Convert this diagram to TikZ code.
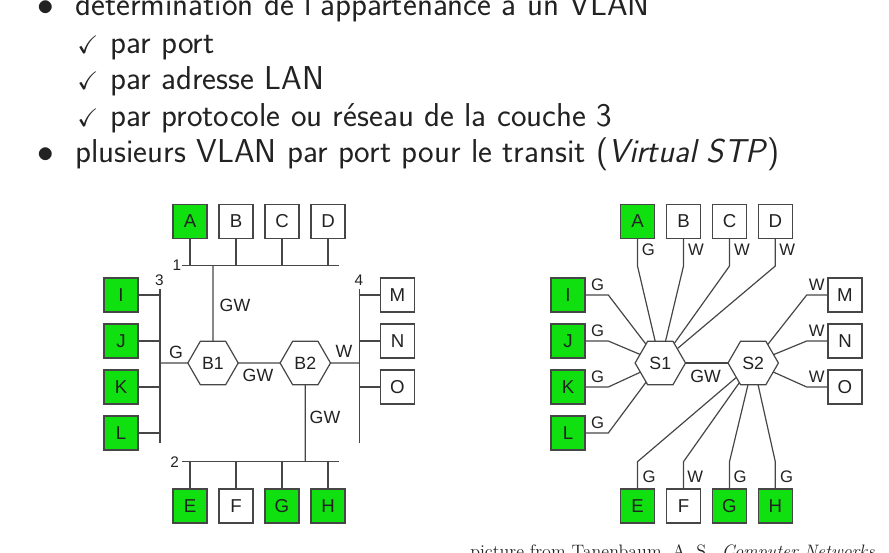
\documentclass[tikz,border=0pt]{standalone}
\usepackage{amssymb}
\usepackage{fontspec}
\newfontfamily\diagfont{Liberation Sans}
\usetikzlibrary{shapes.geometric}
\definecolor{vlangreen}{RGB}{16,224,16}
\definecolor{linegray}{RGB}{70,70,70}
\definecolor{inkgray}{RGB}{34,34,34}

\tikzset{
  item/.style={inner sep=0pt, text=inkgray, font=\sffamily\fontsize{24.8}{28}\selectfont},
  tick/.style={inner sep=0pt, text=inkgray, font=\fontsize{19}{20}\selectfont},
  host/.style={draw=linegray, line width=0.9pt, fill=white, minimum size=25.4pt, inner sep=0pt, outer sep=0pt, text=inkgray, font=\diagfont\fontsize{14}{14}\selectfont},
  vlan/.style={host, fill=vlangreen},
  bridge/.style={regular polygon, regular polygon sides=6, draw=linegray, line width=0.9pt, fill=white, minimum size=37.8pt, inner sep=0pt, outer sep=0pt, text=inkgray, font=\diagfont\fontsize{13.3}{14}\selectfont},
  wire/.style={draw=linegray, line width=0.9pt},
  lbl/.style={inner sep=0pt, text=inkgray, font=\diagfont\fontsize{13.3}{14}\selectfont},
  port/.style={inner sep=0pt, text=inkgray, font=\diagfont\fontsize{12.5}{13}\selectfont},
  busno/.style={inner sep=0pt, text=inkgray, font=\diagfont\fontsize{11.5}{12}\selectfont}
}

\begin{document}
\begin{tikzpicture}[x=0.75pt,y=0.75pt,yscale=-1,xscale=1]
\useasboundingbox (0,0) rectangle (889,553);
\clip (0,0) rectangle (889,553);

% Text Node
\node[item, anchor=base] (dot1) at (46,16) {$\bullet$};
\node[item, anchor=base west] (line1) at (75,16) {détermination de l'appartenance à un VLAN};
\node[tick, anchor=base] (chk1) at (88,53.5) {$\checkmark$};
\node[item, anchor=base west] (line2) at (110,53.5) {par port};
\node[tick, anchor=base] (chk2) at (88,89.5) {$\checkmark$};
\node[item, anchor=base west] (line3) at (110,89.5) {par adresse LAN};
\node[tick, anchor=base] (chk3) at (88,126) {$\checkmark$};
\node[item, anchor=base west] (line4) at (110,126) {par protocole ou réseau de la couche 3};
\node[item, anchor=base] (dot2) at (46,162.5) {$\bullet$};
\node[item, anchor=base west] (line5) at (75,162.5) {plusieurs VLAN par port pour le transit (\textit{Virtual STP})};
% Text Node
\node[inner sep=0pt, anchor=base west, text=inkgray, font=\rmfamily\fontsize{13.5}{16}\selectfont] (source) at (470,557) {picture from Tanenbaum, A. S., \textit{Computer Networks}};

%Shape: left network, bridges
\node[vlan] (la) at (190,221.5) {A};
\node[host] (lb) at (236,221.5) {B};
\node[host] (lc) at (282,221.5) {C};
\node[host] (ld) at (328,221.5) {D};
\node[vlan] (le) at (190,506) {E};
\node[host] (lf) at (236,506) {F};
\node[vlan] (lg) at (282,506) {G};
\node[vlan] (lh) at (328,506) {H};
\node[vlan] (li) at (121,295) {I};
\node[vlan] (lj) at (121,341) {J};
\node[vlan] (lk) at (121,387) {K};
\node[vlan] (ll) at (121,433) {L};
\node[host] (lm) at (397.5,295) {M};
\node[host] (ln) at (397.5,341) {N};
\node[host] (lo) at (397.5,387) {O};
\node[bridge] (b1) at (213,363) {B1};
\node[bridge] (b2) at (305.3,363) {B2};

\coordinate (bus1w) at (182,265.7);
\coordinate (bus1e) at (339,265.7);
\coordinate (bus2w) at (182,461.7);
\coordinate (bus2e) at (339,461.7);
\coordinate (bus3n) at (160,289.3);
\coordinate (bus3s) at (160,443.3);
\coordinate (bus4n) at (359.3,289.3);
\coordinate (bus4s) at (359.3,443.3);

%Straight Lines
\draw[wire] (bus1w) -- (bus1e);
\draw[wire] (bus2w) -- (bus2e);
\draw[wire] (bus3n) -- (bus3s);
\draw[wire] (bus4n) -- (bus4s);
\draw[wire] (la) -- (la |- bus1w);
\draw[wire] (lb) -- (lb |- bus1w);
\draw[wire] (lc) -- (lc |- bus1w);
\draw[wire] (ld) -- (ld |- bus1w);
\draw[wire] (le) -- (le |- bus2w);
\draw[wire] (lf) -- (lf |- bus2w);
\draw[wire] (lg) -- (lg |- bus2w);
\draw[wire] (lh) -- (lh |- bus2w);
\draw[wire] (li) -- (li -| bus3n);
\draw[wire] (lj) -- (lj -| bus3n);
\draw[wire] (lk) -- (lk -| bus3n);
\draw[wire] (ll) -- (ll -| bus3n);
\draw[wire] (lm) -- (lm -| bus4n);
\draw[wire] (ln) -- (ln -| bus4n);
\draw[wire] (lo) -- (lo -| bus4n);
\draw[wire] (b1) -- (b1 |- bus1w);
\draw[wire] (b1) -- (b1 -| bus3n);
\draw[wire] (b1) -- (b2);
\draw[wire] (b2) -- (b2 -| bus4n);
\draw[wire] (b2) -- (b2 |- bus2w);

% Text Node
\node[busno] (n1) at (177,265) {1};
\node[busno] (n2) at (174.7,461.7) {2};
\node[busno] (n3) at (159.5,280.7) {3};
\node[busno] (n4) at (358.8,280.7) {4};
\node[lbl] (gwup) at (235,305) {GW};
\node[lbl] (gwmid) at (258,375) {GW};
\node[lbl] (gwdown) at (325,417.7) {GW};
\node[lbl] (gleft) at (176,352.3) {G};
\node[lbl] (wright) at (344,351.7) {W};

%Shape: right network, switches
\node[vlan] (ra) at (637.5,221.5) {A};
\node[host] (rb) at (683.5,221.5) {B};
\node[host] (rc) at (729.5,221.5) {C};
\node[host] (rd) at (775.3,221.5) {D};
\node[vlan] (re) at (637.5,506) {E};
\node[host] (rf) at (683.5,506) {F};
\node[vlan] (rg) at (729.5,506) {G};
\node[vlan] (rh) at (775.3,506) {H};
\node[vlan] (ri) at (568,295) {I};
\node[vlan] (rj) at (568,341) {J};
\node[vlan] (rk) at (568,387) {K};
\node[vlan] (rl) at (568,433) {L};
\node[host] (rm) at (845,295) {M};
\node[host] (rn) at (845,341) {N};
\node[host] (ro) at (845,387) {O};
\node[bridge] (s1) at (660.3,363) {S1};
\node[bridge] (s2) at (753.2,363) {S2};

%Straight Lines
\draw[wire] (s1) -- (s2);
\draw[wire] (ra) -- ++(0,44.5) -- (s1);
\draw[wire] (rb) -- ++(0,44.5) -- (s1);
\draw[wire] (rc) -- ++(0,44.5) -- (s1);
\draw[wire] (rd) -- ++(0,44.5) -- (s1);
\draw[wire] (ri) -- ++(40.3,0) -- (s1);
\draw[wire] (rj) -- ++(40.3,0) -- (s1);
\draw[wire] (rk) -- ++(40.3,0) -- (s1);
\draw[wire] (rl) -- ++(40.3,0) -- (s1);
\draw[wire] (rm) -- ++(-38.3,0) -- (s2);
\draw[wire] (rn) -- ++(-38.3,0) -- (s2);
\draw[wire] (ro) -- ++(-38.3,0) -- (s2);
\draw[wire] (re) -- ++(0,-44.3) -- (s2);
\draw[wire] (rf) -- ++(0,-44.3) -- (s2);
\draw[wire] (rg) -- ++(0,-44.3) -- (s2);
\draw[wire] (rh) -- ++(0,-44.3) -- (s2);

% Text Node
\node[lbl] (gwsw) at (705.7,376) {GW};
\node[port] (pa) at (648.3,249.3) {G};
\node[port] (pb) at (696,249.3) {W};
\node[port] (pc) at (742,249.3) {W};
\node[port] (pd) at (787.3,249.3) {W};
\node[port] (pi) at (597.7,284.3) {G};
\node[port] (pj) at (597.7,330.7) {G};
\node[port] (pk) at (597.7,376.7) {G};
\node[port] (pl) at (597.7,422.7) {G};
\node[port] (pm) at (816.7,284.3) {W};
\node[port] (pn) at (816.7,330.7) {W};
\node[port] (po) at (816.7,376.7) {W};
\node[port] (pe) at (649,476.7) {G};
\node[port] (pf) at (695.3,476.7) {W};
\node[port] (pg) at (740,476.7) {G};
\node[port] (ph) at (786.7,476.7) {G};

\end{tikzpicture}
\end{document}
